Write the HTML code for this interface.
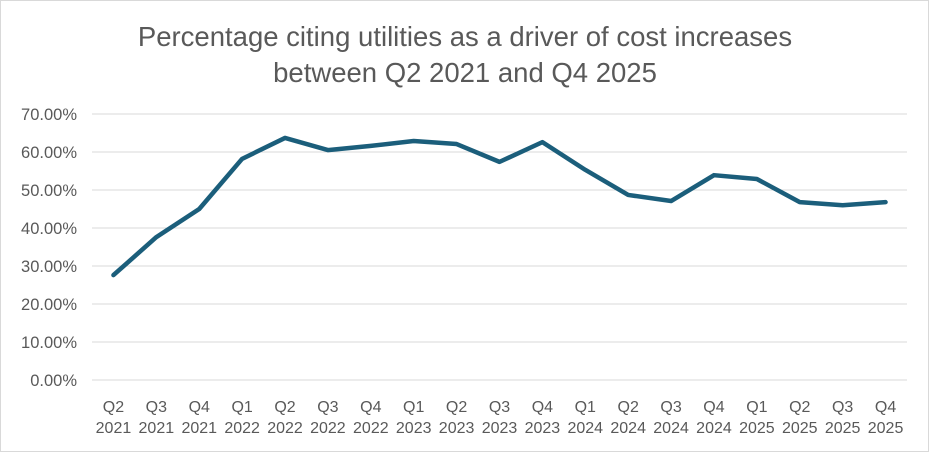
<!DOCTYPE html>
<html><head><meta charset="utf-8">
<style>
html,body{margin:0;padding:0;background:#fff;}
svg{display:block;font-family:"Liberation Sans",sans-serif;}
</style></head>
<body>
<svg id="chart" width="929" height="452" viewBox="0 0 929 452">
<rect x="0.5" y="0.5" width="928" height="451" fill="#fff" stroke="#d9d9d9"/>
<text x="465" y="46" text-anchor="middle" font-size="27.5" fill="#595959">Percentage citing utilities as a driver of cost increases</text>
<text x="465" y="82" text-anchor="middle" font-size="27.5" fill="#595959">between Q2 2021 and Q4 2025</text>
<g id="grid"></g><g id="yticks"></g><g id="xticks"></g><g id="series"></g>
</svg>
<script>
const quarters=["Q2","Q3","Q4","Q1","Q2","Q3","Q4","Q1","Q2","Q3","Q4","Q1","Q2","Q3","Q4","Q1","Q2","Q3","Q4"];
const years=["2021","2021","2021","2022","2022","2022","2022","2023","2023","2023","2023","2024","2024","2024","2024","2025","2025","2025","2025"];
const values=[27.6,37.6,45.0,58.2,63.7,60.5,61.6,62.9,62.1,57.4,62.6,55.3,48.7,47.1,53.9,52.9,46.8,46.0,46.8];
const yTicks=[0,10,20,30,40,50,60,70];
const NS="http://www.w3.org/2000/svg";
const L=92,R=907,T=114,B=380,yMax=70;
const y=v=>B-(v/yMax)*(B-T);
const bw=(R-L)/values.length;
const x=i=>L+bw*(i+0.5);
function mk(tag,attrs,parent){const e=document.createElementNS(NS,tag);for(const k in attrs)e.setAttribute(k,attrs[k]);parent.appendChild(e);return e;}
const grid=document.getElementById('grid'),yt=document.getElementById('yticks'),xt=document.getElementById('xticks'),se=document.getElementById('series');
yTicks.forEach(t=>{
  const g=mk('line',{x1:L,x2:R,y1:y(t),y2:y(t),stroke:'#d9d9d9','stroke-width':1},grid);
  
  
  const lb=mk('text',{x:77,y:y(t)+6,'text-anchor':'end','font-size':16.5,fill:'#595959'},yt);
  lb.textContent=t.toFixed(2)+'%';
  
  
});
quarters.forEach((q,i)=>{
  const t=mk('text',{x:x(i),y:412,'text-anchor':'middle','font-size':16,fill:'#595959'},xt);
  t.textContent=q;
  
  
  const t2=mk('text',{x:x(i),y:433,'text-anchor':'middle','font-size':16,fill:'#595959'},xt);
  t2.textContent=years[i];
  
  
});
const p=mk('polyline',{points:values.map((v,i)=>x(i)+','+y(v)).join(' '),fill:'none',stroke:'#1b5e7b','stroke-width':4.5,'stroke-linejoin':'round','stroke-linecap':'round'},se);


</script>
</body></html>
